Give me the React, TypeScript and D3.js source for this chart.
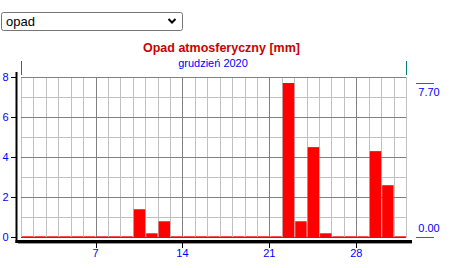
import React from "react";
import * as d3 from "d3";

const days: number[] = d3.range(1, 32);
const values: number[] = [0, 0, 0, 0, 0, 0, 0, 0, 0, 1.4, 0.2, 0.8, 0, 0, 0, 0, 0, 0, 0, 0, 0, 7.7, 0.8, 4.5, 0.2, 0, 0, 0, 4.3, 2.6, 0];
const xTickDays: number[] = [7, 14, 21, 28];
const yTicks: number[] = [0, 2, 4, 6, 8];
const title = "Opad atmosferyczny [mm]";
const subtitle = "grudzień 2020";
const selectLabel = "opad";

export default function App() {
  const W = 450, H = 268;
  const x = d3.scaleLinear().domain([1, 32]).range([21, 406]);
  const y = d3.scaleLinear().domain([0, 8]).range([237.3, 77]);
  const step = x(2) - x(1);
  const font = "'Liberation Sans', Arial, sans-serif";
  const blue = "#0000ff";
  const teal = "#008080";
  const maxV = d3.max(values) as number;
  const minV = d3.min(values) as number;

  const minorX = d3.range(1, 33);
  const minorY = d3.range(0, 9);

  return (
    <svg width={W} height={H} style={{ position: "absolute", left: 0, top: 0 }} fontFamily={font}>
      <rect width={W} height={H} fill="#fff" />
      {/* select box */}
      <rect x={1.5} y={12.5} width={181} height={18} rx={2} fill="#fff" stroke="#767676" />
      <text x={6} y={26} fontSize={13} fill="#000">{selectLabel}</text>
      <path d="M168.5 19 L172 22.5 L175.5 19" fill="none" stroke="#000" strokeWidth={2} />

      {/* titles */}
      <text x={221.5} y={52} textAnchor="middle" fontSize={12.5} fontWeight="bold" fill="#cc0000">{title}</text>
      <text x={213} y={67} textAnchor="middle" fontSize={11} fill={blue}>{subtitle}</text>

      {/* grid minor */}
      {minorX.map((d) => (
        <line key={"vx" + d} x1={Math.round(x(d)) + 0.5} x2={Math.round(x(d)) + 0.5} y1={y(8)} y2={y(0)} stroke="#c0c0c0" />
      ))}
      {minorY.map((v) => (
        <line key={"hy" + v} x1={x(1)} x2={x(32)} y1={Math.round(y(v)) + 0.5} y2={Math.round(y(v)) + 0.5} stroke="#c0c0c0" />
      ))}
      {/* grid major */}
      {xTickDays.map((d) => (
        <line key={"mx" + d} x1={Math.round(x(d)) + 0.5} x2={Math.round(x(d)) + 0.5} y1={y(8)} y2={y(0)} stroke="#808080" />
      ))}
      {yTicks.map((v) => (
        <line key={"my" + v} x1={x(1)} x2={x(32)} y1={Math.round(y(v)) + 0.5} y2={Math.round(y(v)) + 0.5} stroke="#808080" />
      ))}

      {/* zero line */}
      <line x1={x(1)} x2={x(32)} y1={237.5} y2={237.5} stroke="#ff0000" />

      {/* bars */}
      {days.map((d, i) => {
        const v = values[i];
        const top = Math.min(y(v), y(0) - 1);
        return (
          <rect key={"b" + d} x={x(d) + 1} width={step - 1} y={top} height={y(0) - top} fill="#ff0000" />
        );
      })}

      {/* teal top markers */}
      <line x1={21.5} x2={21.5} y1={61} y2={75} stroke={teal} />
      <line x1={406.5} x2={406.5} y1={61} y2={75} stroke={teal} />

      {/* left axis */}
      <line x1={16.5} x2={16.5} y1={72} y2={243} stroke="#000" strokeWidth={2} />
      {yTicks.map((v) => (
        <g key={"yt" + v}>
          <line x1={11} x2={16} y1={Math.round(y(v)) + 0.5} y2={Math.round(y(v)) + 0.5} stroke="#000" />
          <text x={5.5} y={y(v) + 4} textAnchor="middle" fontSize={11} fill={blue}>{v}</text>
        </g>
      ))}

      {/* bottom axis */}
      <line x1={15.5} x2={412} y1={241.5} y2={241.5} stroke="#000" strokeWidth={3} />
      <line x1={18} x2={412} y1={243.5} y2={243.5} stroke="#999" strokeWidth={1} />
      {xTickDays.map((d) => (
        <g key={"xt" + d}>
          <line x1={Math.round(x(d)) + 0.5} x2={Math.round(x(d)) + 0.5} y1={243} y2={248} stroke="#000" />
          <text x={x(d)} y={257} textAnchor="middle" fontSize={11} fill={blue}>{d}</text>
        </g>
      ))}

      {/* right max/min labels */}
      <line x1={416} x2={434} y1={Math.round(y(maxV)) + 0.5} y2={Math.round(y(maxV)) + 0.5} stroke={teal} />
      <text x={429} y={96} textAnchor="middle" fontSize={11} fill={blue}>{maxV.toFixed(2)}</text>
      <line x1={416} x2={434} y1={Math.round(y(minV)) + 0.5} y2={Math.round(y(minV)) + 0.5} stroke={teal} />
      <text x={429} y={232} textAnchor="middle" fontSize={11} fill={blue}>{minV.toFixed(2)}</text>
    </svg>
  );
}
